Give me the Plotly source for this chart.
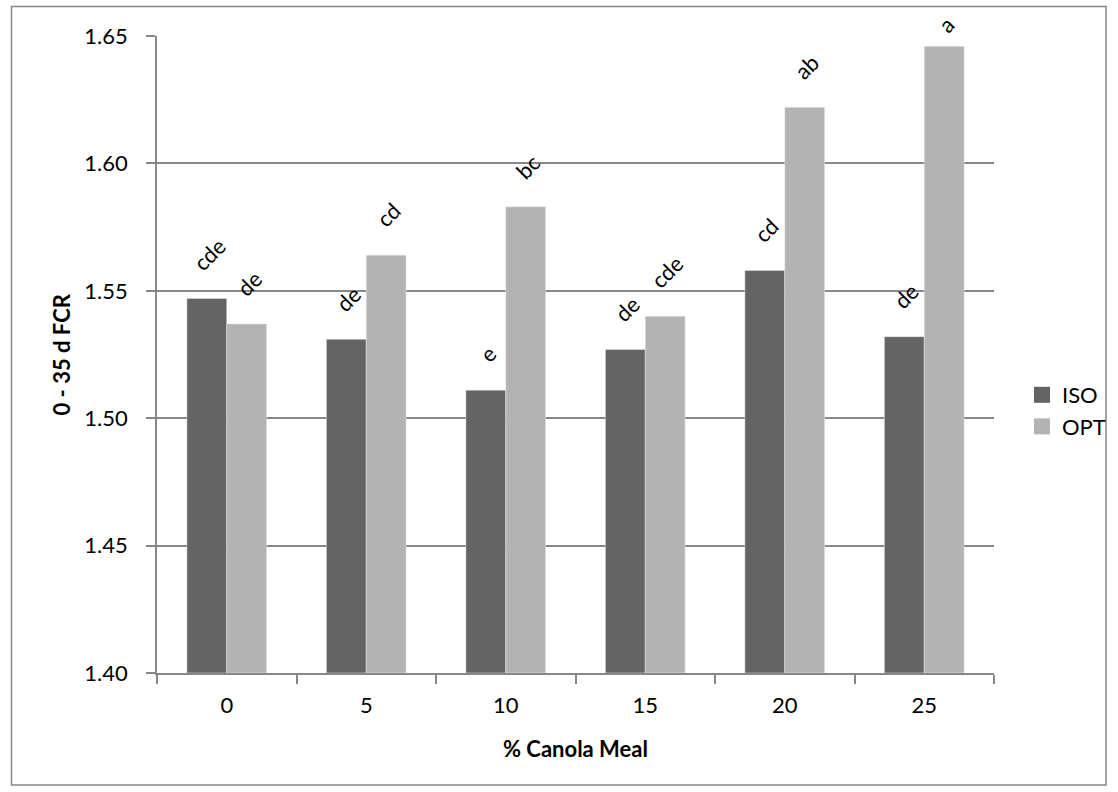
import plotly.graph_objects as go

# Feed conversion ratio (0-35 d) by canola meal inclusion level
canola_levels = ["0", "5", "10", "15", "20", "25"]
iso_fcr = [1.547, 1.531, 1.511, 1.527, 1.558, 1.532]
opt_fcr = [1.537, 1.564, 1.583, 1.540, 1.622, 1.646]
iso_letters = ["cde", "de", "e", "de", "cd", "de"]
opt_letters = ["de", "cd", "bc", "cde", "ab", "a"]

y_min, y_max = 1.40, 1.65

ISO_COLOR = "#646464"
OPT_COLOR = "#B3B3B3"
LINE_GRAY = "#878787"
FONT = "Lato"

# plot-area geometry in pixels
W, H = 1118, 792
ML, MR, MT, MB = 157, 124, 36, 119
PW, PH = W - ML - MR, H - MT - MB
px_to_y = (y_max - y_min) / PH

fig = go.Figure()
fig.add_bar(x=canola_levels, y=[v - y_min for v in iso_fcr], base=y_min,
            marker_color=ISO_COLOR, name="ISO", showlegend=False)
fig.add_bar(x=canola_levels, y=[v - y_min for v in opt_fcr], base=y_min,
            marker_color=OPT_COLOR, name="OPT", showlegend=False)

# legend swatches
for name, col in (("ISO", ISO_COLOR), ("OPT", OPT_COLOR)):
    fig.add_scatter(x=[None], y=[None], mode="markers", name=name,
                    marker=dict(symbol="square", size=16, color=col))

# significance letters above each bar, kept just below the top of the plot
bargap = 1.5 / 3.5
bar_w = (1 - bargap) / 2
label_gap = 20 * px_to_y
top_limit = y_max - 5 * px_to_y
for i in range(len(canola_levels)):
    for val, txt, off in ((iso_fcr[i], iso_letters[i], -bar_w / 2),
                          (opt_fcr[i], opt_letters[i], bar_w / 2)):
        fig.add_annotation(x=i + off, y=min(val + label_gap, top_limit),
                           text=txt, showarrow=False, textangle=-45,
                           xanchor="center", yanchor="bottom", xshift=2,
                           font=dict(family=FONT, size=22, color="black"))

# axis titles
fig.add_annotation(xref="paper", yref="paper", x=0.5, y=(H - MB - 748) / PH,
                   text="<b>% Canola Meal</b>", showarrow=False,
                   xanchor="center", yanchor="middle",
                   font=dict(family=FONT, size=22, color="black"))
fig.add_annotation(xref="paper", yref="paper", x=(61 - ML) / PW, y=0.5,
                   text="<b>0 - 35 d FCR</b>", showarrow=False, textangle=-90,
                   xanchor="center", yanchor="middle",
                   font=dict(family=FONT, size=22, color="black"))

# chart border
fig.add_shape(type="rect", xref="paper", yref="paper",
              x0=(11.5 - ML) / PW, x1=(1106 - ML) / PW,
              y0=(H - MB - 785) / PH, y1=(H - MB - 6.5) / PH,
              line=dict(color=LINE_GRAY, width=1.5), fillcolor="rgba(0,0,0,0)",
              layer="below")

fig.update_layout(
    width=W, height=H,
    margin=dict(l=ML, r=MR, t=MT, b=MB, autoexpand=False),
    paper_bgcolor="white", plot_bgcolor="white",
    barmode="group", bargap=bargap, bargroupgap=0,
    font=dict(family=FONT, size=22, color="black"),
    legend=dict(x=(1022 - ML) / PW, xanchor="left", y=(H - MB - 411) / PH,
                yanchor="middle", bgcolor="rgba(0,0,0,0)",
                font=dict(family=FONT, size=22), itemsizing="trace",
                tracegroupgap=0),
)
fig.update_xaxes(type="category", showgrid=False, showline=True,
                 linecolor=LINE_GRAY, linewidth=1.5, ticks="outside",
                 tickson="boundaries", ticklen=9, tickcolor=LINE_GRAY,
                 tickwidth=1.5, ticklabelstandoff=12, range=[-0.5, 5.5])
fig.update_yaxes(range=[y_min, y_max], dtick=0.05, tickformat=".2f",
                 showgrid=True, gridcolor=LINE_GRAY, gridwidth=1.5,
                 showline=True, linecolor=LINE_GRAY, linewidth=1.5,
                 ticks="outside", ticklen=9, tickcolor=LINE_GRAY, tickwidth=1.5,
                 ticklabelstandoff=14, zeroline=False)

fig.write_html("out.html")
